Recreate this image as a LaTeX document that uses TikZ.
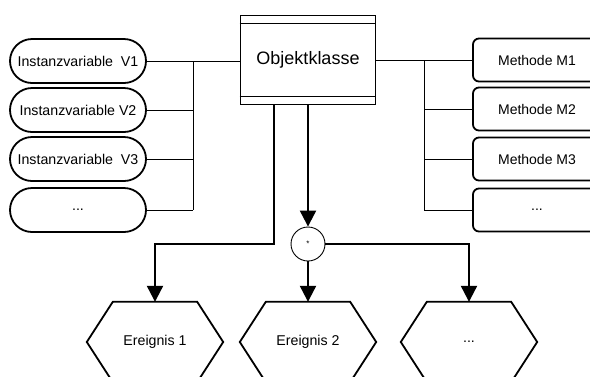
\documentclass[tikz,border=0pt]{standalone}
\usepackage{fontspec}
\setmainfont{Liberation Sans}
\usetikzlibrary{arrows.meta,calc}
\begin{document}
\begin{tikzpicture}[x=1pt,y=-1pt,
  ivar/.style={draw, line width=1.8pt, rounded corners=22pt, minimum width=136pt, minimum height=44pt, inner sep=0pt, font=\fontsize{14.2}{17}\selectfont},
  meth/.style={draw, line width=1.8pt, rounded corners=6pt, minimum width=128pt, minimum height=43pt, inner sep=0pt, font=\fontsize{14}{17}\selectfont},
  classbox/.style={draw, line width=1.8pt, minimum width=135pt, minimum height=89pt, inner sep=0pt, font=\fontsize{18}{21}\selectfont},
  conn/.style={line width=0.8pt},
  flow/.style={line width=2.2pt, -{Triangle[width=16pt,length=16pt]}},
  hexbox/.style={minimum width=136pt, minimum height=80pt, inner sep=0pt, font=\fontsize{14.2}{17}\selectfont},
  hexline/.style={line width=1.8pt, line join=miter},
  joint/.style={draw, circle, minimum size=34pt, inner sep=0pt, line width=0.9pt}
]
\useasboundingbox (0,0) rectangle (590,376);

% object class
\node[classbox] (obj) at (308,60) {Objektklasse};
\draw[line width=1.4pt] ($(obj.north west)+(0,9)$) -- ($(obj.north east)+(0,9)$);
\draw[line width=1.4pt] ($(obj.south west)+(0,-9)$) -- ($(obj.south east)+(0,-9)$);

% instance variables
\node[ivar] (v1) at (78,61) {Instanzvariable\ \ V1};
\node[ivar] (v2) at (78,110) {Instanzvariable V2};
\node[ivar] (v3) at (78,159) {Instanzvariable\ \ V3};
\node[ivar] (v4) at (78,210) {...};

% methods
\node[meth] (m1) at (537,60) {Methode M1};
\node[meth] (m2) at (537,109) {Methode M2};
\node[meth] (m3) at (537,159) {Methode M3};
\node[meth] (m4) at (537,210) {...};

% left bus
\coordinate (bl) at (193,61);
\draw[conn] (v1.east) -- (v1.east -| obj.west);
\draw[conn] (bl) -- (bl |- v4.east);
\foreach \n in {v2,v3,v4} \draw[conn] (\n.east) -- (\n.east -| bl);

% right bus
\coordinate (br) at (424,60);
\draw[conn] (obj.east) -- (m1.west);
\draw[conn] (br) -- (br |- m4.west);
\foreach \n in {m2,m3,m4} \draw[conn] (\n.west) -- (\n.west -| br);

% events
\node[hexbox] (e1) at (155,342) {Ereignis 1};
\node[hexbox] (e2) at (308,342) {Ereignis 2};
\node[hexbox] (e3) at (469,342) {...};
\foreach \n in {e1,e2,e3}
  \draw[hexline] (\n.west) -- ($(\n.north west)+(26,0)$) -- ($(\n.north east)+(-26,0)$) -- (\n.east)
     -- ($(\n.south east)+(-26,0)$) -- ($(\n.south west)+(26,0)$) -- cycle;

% joint
\node[joint] (c) at (308,244) {\raisebox{-1.5pt}{\fontsize{8}{8}\selectfont *}};

% flows
\coordinate (k) at (274,244);
\draw[flow] (obj.south) -- (c.north);
\draw[flow] (k |- obj.south) -- (k) -| (e1.north);
\draw[flow] (c.east) -| (e3.north);
\draw[flow] (c.south) -- (e2.north);
\end{tikzpicture}
\end{document}
